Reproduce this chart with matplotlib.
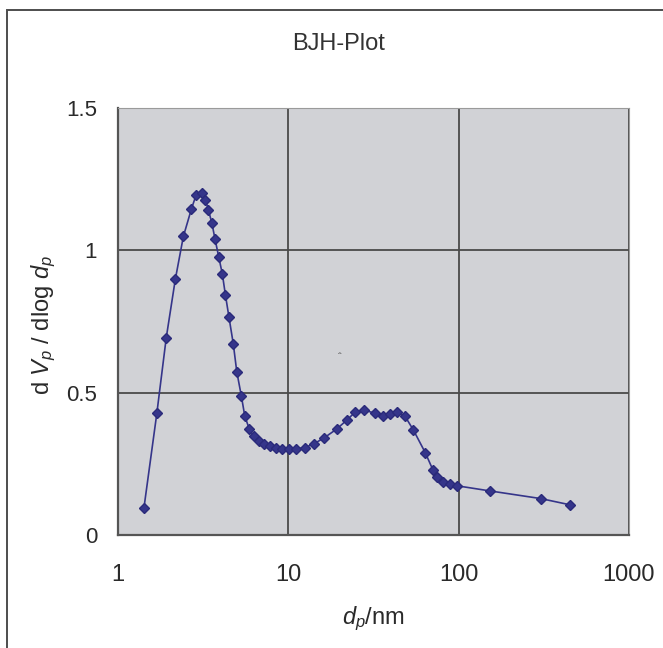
import matplotlib
matplotlib.use("Agg")
import matplotlib.pyplot as plt
import matplotlib.patches as patches
from matplotlib.ticker import FixedLocator, FixedFormatter, NullLocator

# pore diameter (nm) and dVp/dlog dp
dp_nm = [1.42, 1.69, 1.92, 2.17, 2.42, 2.70, 2.87, 3.10, 3.26, 3.39,
         3.56, 3.71, 3.90, 4.10, 4.27, 4.48, 4.75, 4.98, 5.30, 5.55,
         5.90, 6.26, 6.77, 7.22, 7.80, 8.41, 9.20, 10.1, 11.05, 12.5,
         14.2, 16.3, 19.2, 22.0, 24.6, 27.7, 32.3, 36.0, 39.6, 43.5,
         48.2, 54.2, 63.7, 70.8, 75.0, 80.7, 88.7, 97.5, 152, 303, 451]
dv_dlogd = [0.095, 0.427, 0.693, 0.898, 1.049, 1.146, 1.193, 1.202, 1.178, 1.143,
            1.095, 1.040, 0.978, 0.916, 0.844, 0.766, 0.672, 0.574, 0.488, 0.418,
            0.372, 0.347, 0.329, 0.320, 0.311, 0.306, 0.302, 0.302, 0.302, 0.307,
            0.321, 0.342, 0.372, 0.403, 0.431, 0.440, 0.427, 0.418, 0.424, 0.431,
            0.419, 0.369, 0.289, 0.227, 0.203, 0.187, 0.178, 0.173, 0.155, 0.128, 0.106]

x_ticks = [1, 10, 100, 1000]
x_tick_labels = ["1", "10", "100", "1000"]
y_ticks = [0, 0.5, 1.0, 1.5]
y_tick_labels = ["0", "0.5", "1", "1.5"]

plt.rcParams["font.family"] = ["Liberation Sans", "DejaVu Sans"]
plt.rcParams["mathtext.fontset"] = "custom"
plt.rcParams["mathtext.rm"] = "Liberation Sans"
plt.rcParams["mathtext.it"] = "Liberation Sans:italic"

fig = plt.figure(figsize=(6.63, 6.48), dpi=100)
fig.patch.set_facecolor("white")

# outer chart frame
fig.add_artist(patches.Rectangle((7 / 663, -0.1), 1.2, 1.1 - 10 / 648,
                                 transform=fig.transFigure, fill=False,
                                 edgecolor="#4d4d4d", linewidth=1.4))

ax = fig.add_axes([118 / 663, 1 - 535 / 648, (629 - 118) / 663, (535 - 108) / 648])
ax.set_facecolor("#d1d2d6")

ax.plot(dp_nm, dv_dlogd, color="#35358a", linewidth=1.2, marker="D",
        markersize=5.4, markerfacecolor="#35358a", markeredgecolor="#2a2a7a", zorder=3)

ax.set_xscale("log")
ax.set_xlim(1, 1000)
ax.set_ylim(0, 1.5)

ax.xaxis.set_major_locator(FixedLocator(x_ticks))
ax.xaxis.set_major_formatter(FixedFormatter(x_tick_labels))
ax.xaxis.set_minor_locator(NullLocator())
ax.yaxis.set_major_locator(FixedLocator(y_ticks))
ax.yaxis.set_major_formatter(FixedFormatter(y_tick_labels))

ax.grid(True, color="#4a4a4a", linewidth=1.3, zorder=1)
ax.set_axisbelow(True)

for side in ["left", "bottom"]:
    ax.spines[side].set_color("#555555")
    ax.spines[side].set_linewidth(1.6)
for side in ["top", "right"]:
    ax.spines[side].set_color("#9a9a9a")
    ax.spines[side].set_linewidth(0.8)

ax.tick_params(axis="x", length=0, pad=21, labelsize=17, colors="#2a2a2a")
ax.tick_params(axis="y", length=0, pad=15, labelsize=16, colors="#2a2a2a")

fig.text(339 / 663, 1 - 44 / 648, "BJH-Plot", ha="center", va="center",
         fontsize=17, color="#333333")
fig.text(373 / 663, 1 - 619 / 648, r"$d_p$/nm", ha="center", va="center",
         fontsize=17, color="#2a2a2a")
fig.text(44 / 663, 1 - 325 / 648, r"d $V_p$ / dlog $d_p$", ha="center", va="center",
         rotation=90, fontsize=17, color="#2a2a2a")

# small stray mark present in the reference
fig.text(340 / 663, 1 - 358 / 648, "ˆ", ha="center", va="center", fontsize=8, color="#555555")

fig.savefig("out.png", dpi=100, facecolor="white")
